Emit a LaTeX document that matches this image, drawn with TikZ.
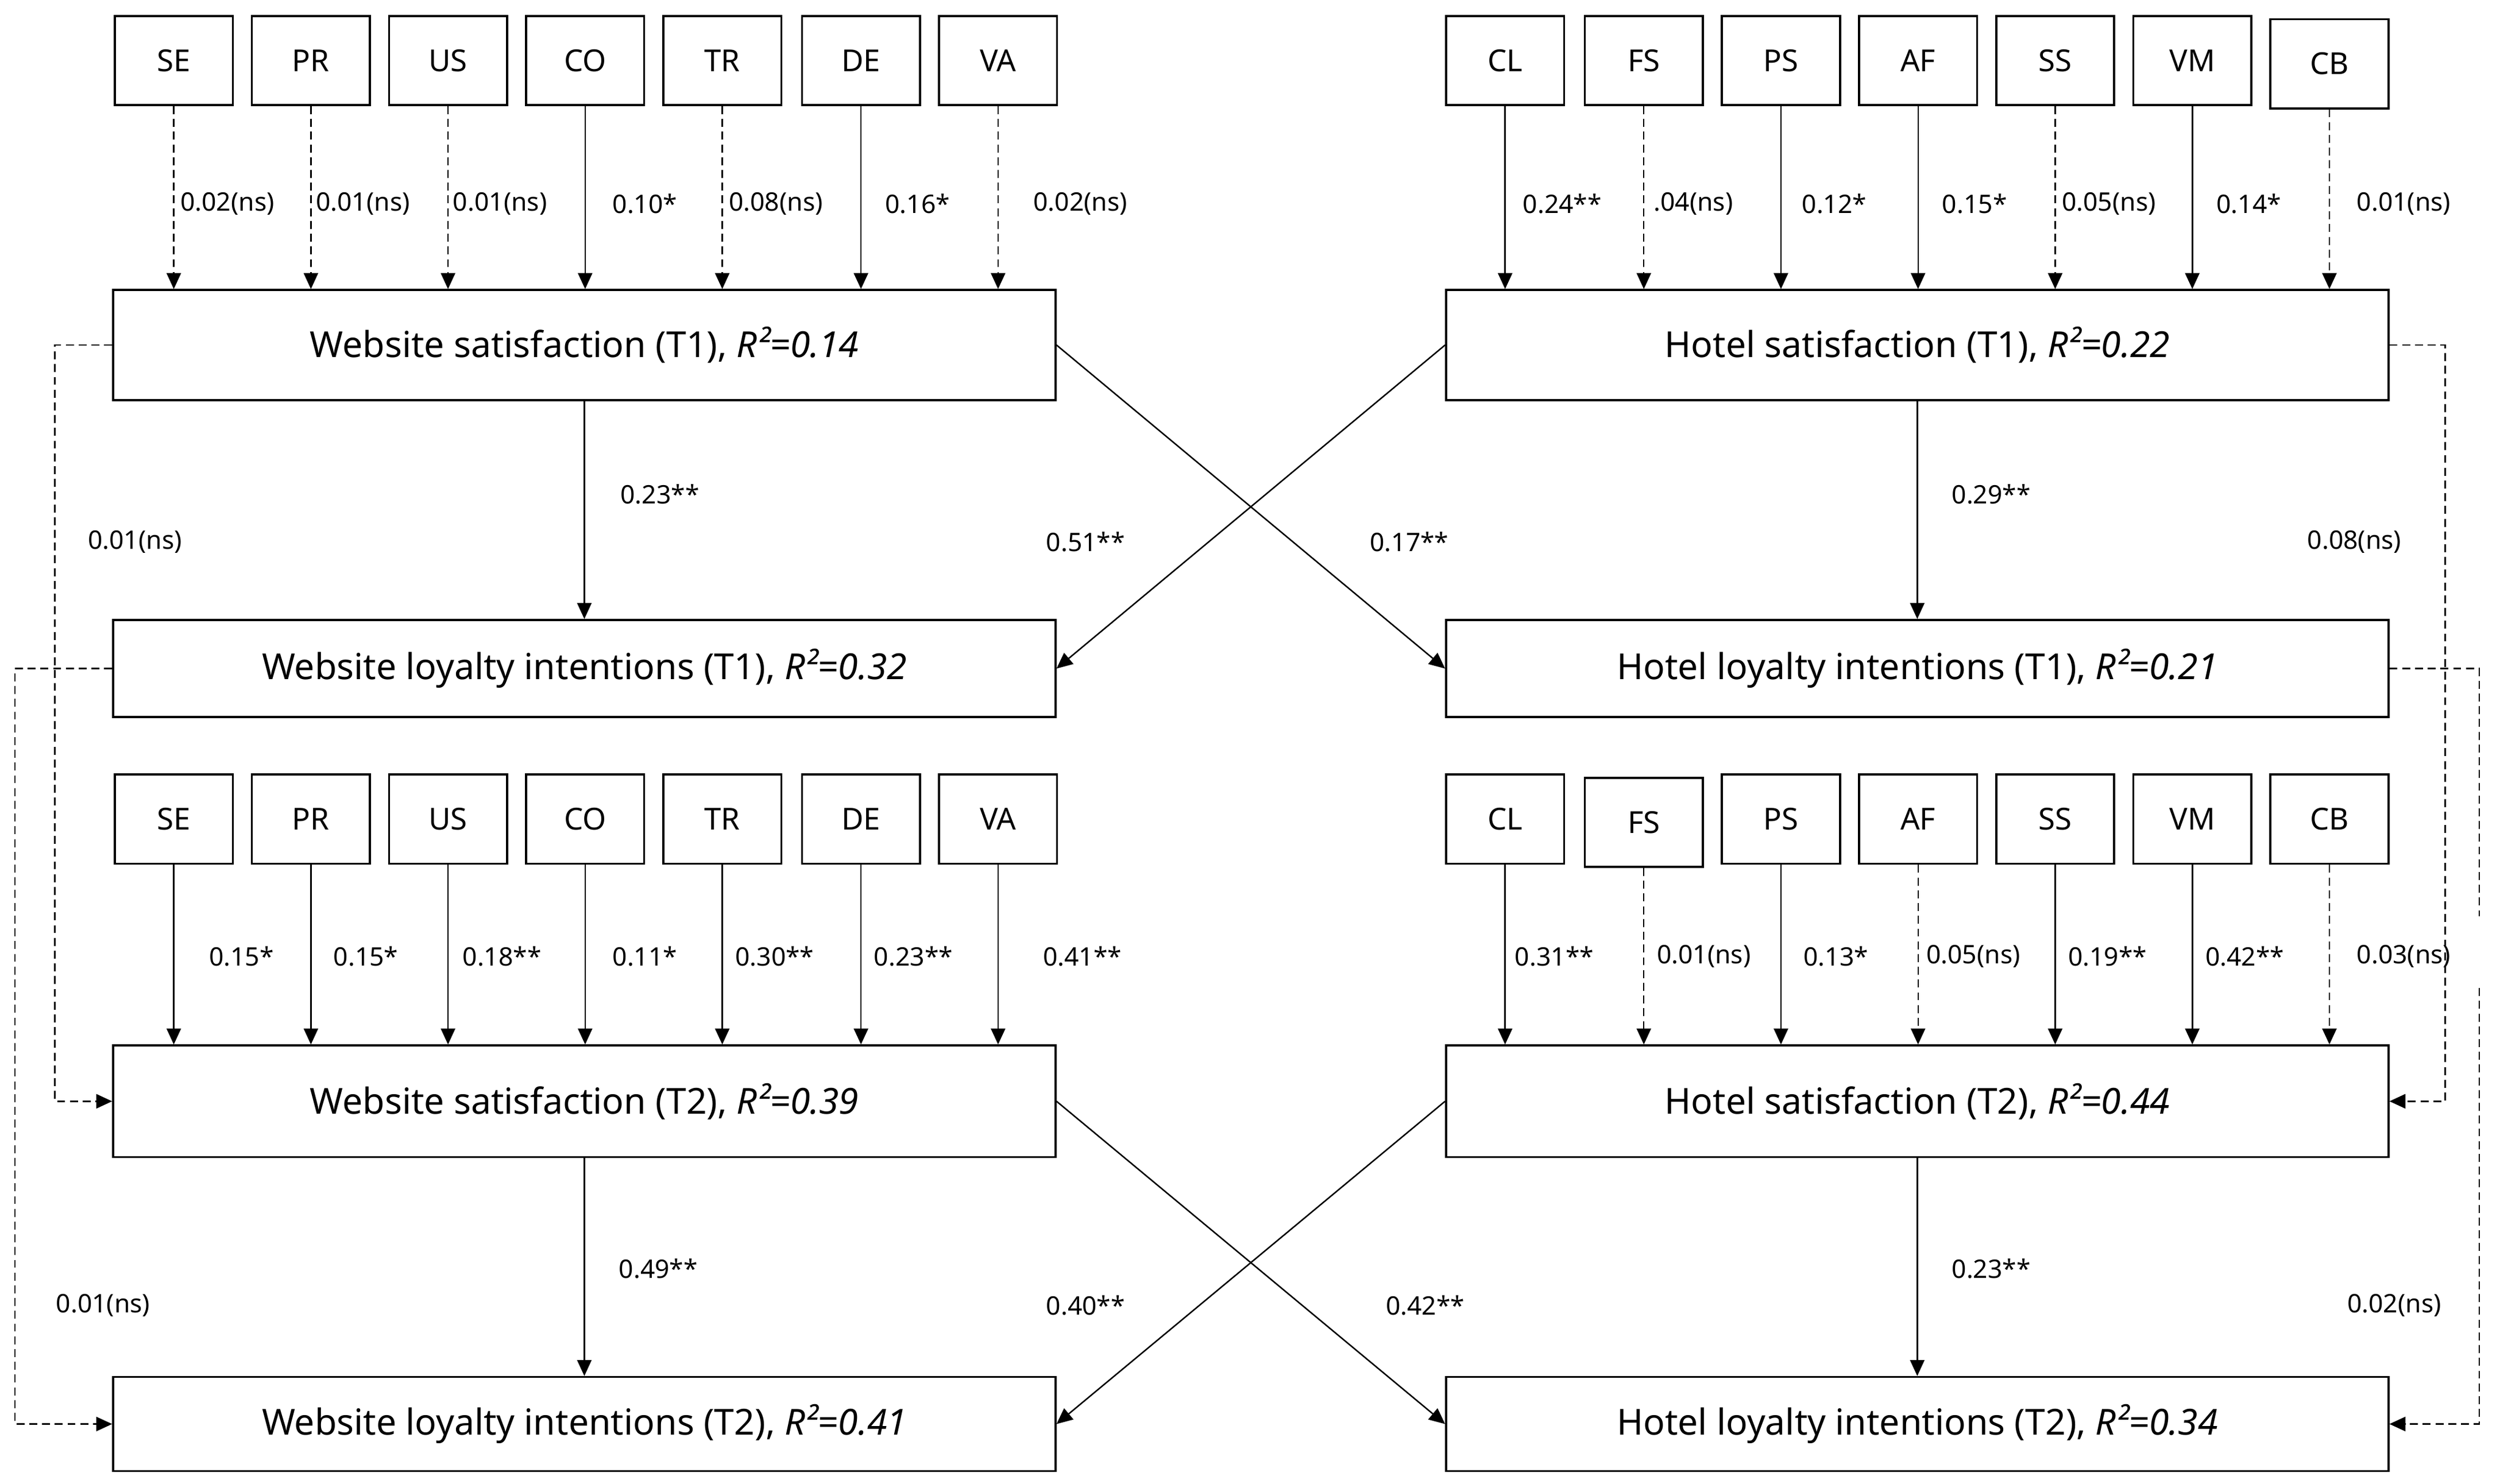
\documentclass[tikz,border=0pt]{standalone}
\usepackage{fontspec}
\setmainfont{Noto Sans}
\usetikzlibrary{arrows.meta}
\begin{document}
\begin{tikzpicture}[x=1pt,y=-1pt,
  sbox/.style={draw,line width=1.3pt,minimum width=74pt,minimum height=56pt,inner sep=0,font=\fontsize{19}{19}\selectfont},
  bbox/.style={draw,line width=1.3pt,minimum width=591pt,inner sep=0,font=\fontsize{22.5}{22.5}\selectfont},
  lab/.style={anchor=west,inner sep=0,font=\fontsize{16}{16}\selectfont},
  arr/.style={line width=0.9pt,-{Triangle[length=10pt,width=9pt]}},
  dsh/.style={dash pattern=on 5pt off 3pt}]
\useasboundingbox (0,0) rectangle (1568,931);
% small boxes
\foreach \n/\x in {SE/109,PR/195,US/281,CO/367,TR/453,DE/540,VA/626}{
  \node[sbox] (\n1) at (\x,38) {\n};
  \node[sbox] (\n2) at (\x,514) {\n};}
\foreach \n/\x in {CL/944,PS/1117,AF/1203,SS/1289,VM/1375}{
  \node[sbox] (\n1) at (\x,38) {\n};
  \node[sbox] (\n2) at (\x,514) {\n};}
\node[sbox] (FS1) at (1031,38) {FS};
\node[sbox] (FS2) at (1031,516) {FS};
\node[sbox] (CB1) at (1461,40) {CB};
\node[sbox] (CB2) at (1461,514) {CB};
% big boxes
\node[bbox,minimum height=69pt] (WS1) at (366.5,216.5) {Website satisfaction (T1), \textit{R²=0.14}};
\node[bbox,minimum height=69pt] (HS1) at (1202.5,216.5) {Hotel satisfaction (T1), \textit{R²=0.22}};
\node[bbox,minimum height=61pt] (WL1) at (366.5,419.5) {Website loyalty intentions (T1), \textit{R²=0.32}};
\node[bbox,minimum height=61pt] (HL1) at (1202.5,419.5) {Hotel loyalty intentions (T1), \textit{R²=0.21}};
\node[bbox,minimum height=70pt] (WS2) at (366.5,691) {Website satisfaction (T2), \textit{R²=0.39}};
\node[bbox,minimum height=70pt] (HS2) at (1202.5,691) {Hotel satisfaction (T2), \textit{R²=0.44}};
\node[bbox,minimum height=59pt] (WL2) at (366.5,893.5) {Website loyalty intentions (T2), \textit{R²=0.41}};
\node[bbox,minimum height=59pt] (HL2) at (1202.5,893.5) {Hotel loyalty intentions (T2), \textit{R²=0.34}};
% row1 arrows
\foreach \n/\s/\l/\lx in {SE/dsh/0.02(ns)/113,PR/dsh/0.01(ns)/198,US/dsh/0.01(ns)/284,CO/solid/0.10*/384,TR/dsh/0.08(ns)/457,DE/solid/0.16*/555,VA/dsh/0.02(ns)/648}{
  \draw[arr,\s] (\n1.south) -- (\n1.south |- WS1.north);
  \node[lab,fill=white] at (\lx,128) {\l};}
\foreach \n/\s/\l/\lx in {CL/solid/0.24**/955,FS/dsh/.04(ns)/1037,PS/solid/0.12*/1130,AF/solid/0.15*/1218,SS/dsh/0.05(ns)/1293,VM/solid/0.14*/1390,CB/dsh/0.01(ns)/1478}{
  \draw[arr,\s] (\n1.south) -- (\n1.south |- HS1.north);
  \node[lab,fill=white] at (\lx,128) {\l};}
% row2 arrows
\foreach \n/\l/\lx in {SE/0.15*/131,PR/0.15*/209,US/0.18**/290,CO/0.11*/384,TR/0.30**/461,DE/0.23**/548,VA/0.41**/654}{
  \draw[arr] (\n2.south) -- (\n2.south |- WS2.north);
  \node[lab] at (\lx,600) {\l};}
\foreach \n/\s/\l/\lx in {CL/solid/0.31**/950,FS/dsh/0.01(ns)/1039,PS/solid/0.13*/1131,AF/dsh/0.05(ns)/1208,SS/solid/0.19**/1297,VM/solid/0.42**/1383,CB/dsh/0.03(ns)/1478}{
  \draw[arr,\s] (\n2.south) -- (\n2.south |- HS2.north);
  \node[lab] at (\lx,600) {\l};}
% vertical & cross
\draw[arr] (WS1) -- (WL1); \node[lab] at (389,310) {0.23**};
\draw[arr] (HS1) -- (HL1); \node[lab] at (1224,310) {0.29**};
\draw[arr] (WS1.east) -- (HL1.west); \node[lab] at (859,340) {0.17**};
\draw[arr] (HS1.west) -- (WL1.east); \node[lab] at (656,340) {0.51**};
\draw[arr] (WS2) -- (WL2); \node[lab] at (388,796) {0.49**};
\draw[arr] (HS2) -- (HL2); \node[lab] at (1224,796) {0.23**};
\draw[arr] (WS2.east) -- (HL2.west); \node[lab] at (869,819) {0.42**};
\draw[arr] (HS2.west) -- (WL2.east); \node[lab] at (656,819) {0.40**};
% dashed cross-lag
\draw[arr,dsh] (WS1.west) -- ++(-36,0) |- (WS2.west); \node[lab] at (55,340) {0.01(ns)};
\draw[arr,dsh] (WL1.west) -- ++(-61,0) |- (WL2.west); \node[lab] at (35,819) {0.01(ns)};
\draw[arr,dsh] (HS1.east) -- ++(35,0) |- (HS2.east); \node[lab] at (1447,340) {0.08(ns)};
\coordinate (g1) at (1555,575); \coordinate (g2) at (1555,620);
\draw[dsh,line width=0.9pt] (HL1.east) -- (HL1.east -| g1) -- (g1);
\draw[arr,dsh] (g2) |- (HL2.east); \node[lab] at (1472,819) {0.02(ns)};
\end{tikzpicture}
\end{document}
